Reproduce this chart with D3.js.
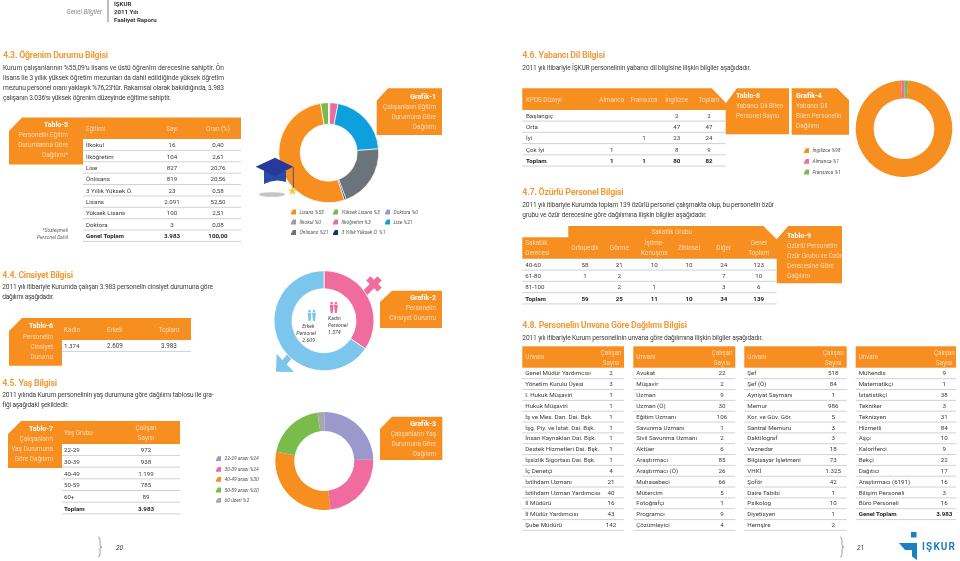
<!DOCTYPE html>
<html lang="tr"><head><meta charset="utf-8">
<script src="https://cdnjs.cloudflare.com/ajax/libs/d3/7.8.5/d3.min.js"></script>
<style>html,body{margin:0;padding:0;background:#fff}svg{display:block;filter:blur(.3px)}text{font-family:Roboto,sans-serif}</style>
</head><body><svg id="c" width="960" height="561"></svg>
<script>
// ---------- data ----------
const eduLabels=["İlkokul","İlköğretim","Lise","Önlisans","3 Yıllık Yüksek Ö.","Lisans","Yüksek Lisans","Doktora"];
const eduCounts=[16,104,827,819,23,2091,100,3];
const eduCountText=["16","104","827","819","23","2.091","100","3"];
const eduShare=["0,40","2,61","20,76","20,56","0,58","52,50","2,51","0,08"];
const eduTotal=["Genel Toplam","3.983","100,00"];
const genderLabels=["Kadın","Erkek"];
const genderCounts=[1374,2609];
const genderText=["1.374","2.609","3.983"];
const ageLabels=["22-29","30-39","40-49","50-59","60+"];
const ageCounts=[972,938,1199,785,89];
const ageText=["972","938","1.199","785","89"];
const langLevels=["Başlangıç","Orta","İyi","Çok İyi","Toplam"];
const langAlmanca=["","","","1","1"];
const langFransizca=["","","1","","1"];
const langIngilizce=["2","47","23","8","80"];
const langToplam=["2","47","24","9","82"];
const langPie=[80,1,1];
const disLevels=["40-60","61-80","81-100","Toplam"];
const disOrtopedik=["58","1","","59"];
const disGorme=["21","2","2","25"];
const disIsitme=["10","","1","11"];
const disZihinsel=["10","","","10"];
const disDiger=["24","7","3","34"];
const disToplam=["123","10","6","139"];
const titlesA=["Genel Müdür Yardımcısı","Yönetim Kurulu Üyesi","I. Hukuk Müşaviri","Hukuk Müşaviri","İş ve Mes. Dan. Dai. Bşk.","İşg. Piy. ve İstat. Dai. Bşk.","İnsan Kaynakları  Dai. Bşk.","Destek Hizmetleri  Dai. Bşk.","İşsizlik Sigortası  Dai. Bşk.","İç Denetçi","İstihdam Uzmanı","İstihdam Uzman Yardımcısı","İl Müdürü","İl Müdür Yardımcısı","Şube Müdürü"];
const countsA=["2","3","1","1","1","1","1","1","1","4","21","40","16","43","142"];
const titlesB=["Avukat","Müşavir","Uzman","Uzman (Ö)","Eğitim Uzmanı","Savunma Uzmanı","Sivil Savunma Uzmanı","Aktüer","Araştırmacı","Araştırmacı (Ö)","Muhasebeci","Mütercim","Fotoğrafçı","Programcı","Çözümleyici"];
const countsB=["22","2","9","30","106","1","2","6","85","26","66","5","1","9","4"];
const titlesC=["Şef","Şef (Ö)","Ayniyat Saymanı","Memur","Kor. ve Güv. Gör.","Santral Memuru","Daktilograf","Veznedar","Bilgisayar İşletmeni","VHKİ","Şoför","Daire Tabibi","Psikolog","Diyetisyen","Hemşire"];
const countsC=["518","84","1","986","5","3","3","18","73","1.325","42","1","10","1","2"];
const titlesD=["Mühendis","Matematikçi","İstatistikçi","Tekniker","Teknisyen","Hizmetli","Aşçı","Kaloriferci","Bekçi","Dağıtıcı","Araştırmacı (6191)","Bilişim Personeli","Büro Personeli","Genel Toplam"];
const countsD=["9","1","38","3","31","84","10","9","22","17","16","3","16","3.983"];
const legend1=["Lisans %53","Yüksek Lisans %3","Doktora %0","İlkokul %0","İlköğretim %3","Lise %21","Önlisans %21","3 Yıllık Yüksek Ö. %1"];
const legend3=["22-29 arası %24","30-39 arası %24","40-49 arası %30","50-59 arası %20","60 üzeri %2"];
const legend4=["İngilizce %98","Almanca %1","Fransızca %1"];

// ---------- style ----------
const ORANGE="#f68e20",TXT="#3c3c3c",RULE="#c9cdd0",HEAD="#ee9c3c",HTXT="#fcdcb8";
const C1={Lisans:"#f68e20","Yüksek Lisans":"#7cb84a",Doktora:"#9c98c9","İlkokul":"#9b9b9d","İlköğretim":"#ec6c9f",Lise:"#0ea0dc","Önlisans":"#6c747b","3 Yıllık Yüksek Ö.":"#12356e"};
const svg=d3.select("#c");

function T(x,y,s,o={}){
  const e=svg.append("text").attr("x",x).attr("y",y).attr("dy",".35em").text(s)
    .attr("font-size",o.size||6.3).attr("fill",o.fill||TXT)
    .attr("text-anchor",o.anchor||"start");
  if(o.bold)e.attr("font-weight",700);
  if(o.italic)e.attr("font-style","italic");
  if(o.w){e.attr("textLength",o.w).attr("lengthAdjust","spacing");}
  return e;
}
const heading=(x,x1,y,s)=>T(x,y,s,{size:8.8,bold:true,fill:HEAD,w:x1-x});
const para=(x,x1,y,s)=>T(x,y,s,{w:x1-x,size:6.6});
const poly=(pts,fill)=>svg.append("path").attr("d",d3.line()(pts)+"Z").attr("fill",fill);

function note(x,ys,lines,anchor){
  lines.forEach((l,i)=>T(x,ys[i],l,{anchor,fill:i==0?"#fff":HTXT,bold:i==0,size:i==0?7:6.4}));
}
// generic table body drawn with a row scale
function body(x0,x1,y0,y1,n,cols,opts={}){
  const yS=d3.scalePoint().domain(d3.range(n)).range([y0,y1]);
  const g=svg.append("g");
  g.selectAll("line").data(d3.range(n)).join("line")
    .attr("x1",x0).attr("x2",x1)
    .attr("y1",i=>yS(i)+5.4).attr("y2",i=>yS(i)+5.4)
    .attr("stroke",RULE).attr("stroke-width",.9);
  cols.forEach(c=>{
    g.selectAll(null).data(c.vals).join("text")
      .attr("x",c.x).attr("y",(d,i)=>yS(i)).attr("dy",".35em")
      .attr("text-anchor",c.anchor||"middle").attr("font-size",6.2)
      .attr("font-weight",(d,i)=>opts.boldLast&&i==n-1?700:null)
      .attr("fill",(d,i)=>opts.boldLast&&i==n-1?"#222":TXT)
      .text(d=>d);
  });
}
function donut(cx,cy,R,r,values,colors,start,sep){
  const pie=d3.pie().sort(null).startAngle(start).endAngle(start+2*Math.PI);
  const arc=d3.arc().innerRadius(r).outerRadius(R);
  const g=svg.append("g").attr("transform",`translate(${cx},${cy})`);
  g.selectAll("path").data(pie(values)).join("path").attr("d",arc)
    .attr("fill",(d,i)=>colors[i]).attr("stroke","#fff").attr("stroke-width",sep||0);
  return g;
}
function swatch(x,y,c){
  svg.append("path").attr("transform",`translate(${x},${y})`)
    .attr("d","M0,2.4L0,1L2,-2.4L5,-2.4L5,2.4Z").attr("fill",c);
}
function legend(items,colors,xs,ys){
  items.forEach((s,i)=>{swatch(xs[i],ys[i],colors[i]);
    T(xs[i]+8.5,ys[i],s,{italic:true,size:5,fill:"#555"});});
}

// ---------- left header ----------
T(102,11.5,"Genel Bilgiler",{anchor:"end",italic:true,size:6.3,fill:"#8a8a8a"});
svg.append("line").attr("x1",108).attr("x2",108).attr("y1",0).attr("y2",22).attr("stroke","#555").attr("stroke-width",.8);
["İŞKUR","2011 Yılı","Faaliyet Raporu"].forEach((s,i)=>T(114,[4,12,19.5][i],s,{bold:true,size:6.1,fill:"#333"}));

// ---------- 4.3 ----------
heading(3,108,55,"4.3. Öğrenim Durumu Bilgisi");
para(3,224,67.5,"Kurum çalışanlarının %55,09'u lisans ve üstü öğrenim derecesine sahiptir. Ön");
para(3,224,77.5,"lisans ile 3 yıllık yüksek öğretim mezunları da dahil edildiğinde yüksek öğretim");
para(3,224,87.5,"mezunu personel oranı yaklaşık %76,23'tür. Rakamsal olarak bakıldığında, 3.983");
para(3,171,97.5,"çalışanın 3.036'sı yüksek öğrenim düzeyinde eğitime sahiptir.");

poly([[9,131],[22,117.5],[241,117.5],[241,139],[83,139],[83,164.5],[9,164.5]],ORANGE);
note(68,[124.5,134.5,144.5,154.5],["Tablo-5","Personelin Eğitim","Durumlarına Göre","Dağılımı*"],"end");
T(86,128.5,"Eğitimi",{fill:HTXT});T(172,128.5,"Sayı",{fill:HTXT,anchor:"middle"});T(218,128.5,"Oran (%)",{fill:HTXT,anchor:"middle"});
body(83,241,145,236,9,[
 {x:86,anchor:"start",vals:[...eduLabels,eduTotal[0]]},
 {x:172,vals:[...eduCountText,eduTotal[1]]},
 {x:218,vals:[...eduShare,eduTotal[2]]}],{boldLast:true});
T(68,230.5,"*Sözleşmeli",{anchor:"end",italic:true,size:5,fill:"#666"});
T(68,237.5,"Personel Dahil",{anchor:"end",italic:true,size:5,fill:"#666"});

// ---------- 4.4 ----------
heading(2.3,73,274.5,"4.4. Cinsiyet Bilgisi");
para(2.3,213,287,"2011 yılı itibariyle Kurumda çalışan 3.983 personelin cinsiyet durumuna göre");
para(2.3,54,297,"dağılımı aşağıdadır.");
poly([[9,331],[22,318],[191,318],[191,340],[62,340],[62,365.7],[9,365.7]],ORANGE);
note(53,[326,336.5,346.5,356.5],["Tablo-6","Personelin","Cinsiyet","Durumu"],"end");
T(64,329.5,genderLabels[0],{fill:HTXT});T(107,329.5,genderLabels[1],{fill:HTXT});T(169,329.5,"Toplam",{fill:HTXT,anchor:"middle"});
body(62,191,346,346,1,[{x:64,anchor:"start",vals:[genderText[0]]}]);
T(107,346,genderText[1]);T(169,346,genderText[2],{anchor:"middle"});

// ---------- 4.5 ----------
heading(2.3,57,382.7,"4.5. Yaş Bilgisi");
para(2.3,213.6,395,"2011 yılında Kurum personelinin yaş durumuna göre dağılımı tablosu ile gra-");
para(2.3,68.7,405,"fiği aşağıdaki şekildedir.");
poly([[8,434],[21,421],[180,421],[180,444],[62,444],[62,468],[8,468]],ORANGE);
note(53,[428.5,439,449,458.5],["Tablo-7","Çalışanların","Yaş Durumuna","Göre Dağılımı"],"end");
T(64,433,"Yaş Grubu",{fill:HTXT});T(146,428,"Çalışan",{fill:HTXT,anchor:"middle"});T(146,438,"Sayısı",{fill:HTXT,anchor:"middle"});
body(62,180,450,508.5,6,[{x:64,anchor:"start",vals:[...ageLabels,"Toplam"]},{x:146,vals:[...ageText,genderText[2]]}],{boldLast:true});

// page markers
function brace(x,y0,y1){const m=(y0+y1)/2;
 svg.append("path").attr("d",`M${x-2},${y0}Q${x},${y0} ${x},${y0+3}L${x},${m-2}Q${x},${m} ${x+2},${m}Q${x},${m} ${x},${m+2}L${x},${y1-3}Q${x},${y1} ${x-2},${y1}`)
  .attr("fill","none").attr("stroke","#777").attr("stroke-width",.7);}
brace(100,537,557);T(116,547.5,"20",{italic:true,size:6.6});
brace(842,537,557);T(857,547.5,"21",{italic:true,size:6.6});

// ---------- Grafik 1 ----------
const eduColors=eduLabels.map(l=>C1[l]);
donut(328.7,152.7,50,28.5,eduCounts,eduColors,0,.7);
poly([[376.7,100.7],[388,88.3],[442,88.3],[442,135],[376.7,135]],ORANGE);
note(436,[96.5,106.7,116.5,126.5],["Grafik-1","Çalışanların Eğitim","Durumuna Göre","Dağılımı"],"end");
// graduation cap
svg.append("ellipse").attr("cx",272).attr("cy",194.5).attr("rx",13).attr("ry",2.3).attr("fill","#c4c4c4");
svg.append("path").attr("d","M264,171L286,171L286,182Q275,178 264,184Z").attr("fill","#2b4aa8");
poly([[255.7,166.7],[275,157.7],[293.3,166.7],[275,176]],"#27399a");
svg.append("path").attr("d","M293.3,167L293.3,188").attr("stroke","#27399a").attr("stroke-width",.8);
svg.append("path").attr("transform","translate(292.5,191)").attr("d",d3.symbol(d3.symbolStar,26)()).attr("fill","#f6c83a");
legend(legend1,[C1.Lisans,C1["Yüksek Lisans"],C1.Doktora,C1["İlkokul"],C1["İlköğretim"],C1.Lise,C1["Önlisans"],C1["3 Yıllık Yüksek Ö."]],
  [291,333,385,291,333,385,291,333],[212,212,212,222,222,222,232.5,232.5]);

// ---------- Grafik 2 ----------
const PINK="#f06c9f",SKY="#7cc5ec";
svg.append("g").attr("transform","translate(374,284) rotate(45)").call(g=>{
  g.append("rect").attr("x",-3).attr("y",-8).attr("width",6).attr("height",22).attr("fill",PINK);
  g.append("rect").attr("x",-8).attr("y",-3).attr("width",16).attr("height",6).attr("fill",PINK);
});
svg.append("line").attr("x1",295).attr("y1",350).attr("x2",282).attr("y2",365).attr("stroke",SKY).attr("stroke-width",6);
poly([[276,371.7],[276.7,354],[294,372]],SKY);
donut(324,320.7,50,32,genderCounts,[PINK,SKY],0,.8);
poly([[380,302],[392,290.7],[442,290.7],[442,328],[380,328]],ORANGE);
note(436,[298,308,318],["Grafik-2","Personelin","Cinsiyet Durumu"],"end");
function person(x,y,c){
  svg.append("circle").attr("cx",x).attr("cy",y).attr("r",1.3).attr("fill",c);
  svg.append("path").attr("d",`M${x-1.9},${y+1.8}L${x+1.9},${y+1.8}L${x+1.5},${y+6}L${x+1},${y+10}L${x-1},${y+10}L${x-1.5},${y+6}Z`).attr("fill",c);
}
person(331.7,303,PINK);person(335.9,303,PINK);
person(309.5,311,SKY);person(314,311,SKY);
["Kadın","Personel","1.374"].forEach((s,i)=>T(328,[318,325,332][i],s,{italic:true,size:5.2,fill:"#444"}));
["Erkek","Personel","2.609"].forEach((s,i)=>T([314.5,316,315][i],[326,333,340][i],s,{italic:true,size:5.2,fill:"#444",anchor:"end"}));

// ---------- Grafik 3 ----------
const ageColors=["#9b99cc","#ef6ba0","#f68e20","#7abc4b","#a8a8aa"];
donut(324.3,461,49,30,ageCounts,ageColors,0,0);
poly([[380,429],[392,416.7],[442.3,416.7],[442.3,460],[380,460]],ORANGE);
note(436,[424,434,443.7,453.7],["Grafik-3","Çalışanların Yaş","Durumuna Göre","Dağılımı"],"end");
legend(legend3,ageColors,[216,216,216,216,216],[458.7,469.3,479.3,490,500.3]);

// ---------- 4.6 ----------
heading(522.3,605,55,"4.6. Yabancı Dil Bilgisi");
para(522.3,751,68,"2011 yılı itibariyle İŞKUR personelinin yabancı dil bilgisine ilişkin bilgiler aşağıdadır.");
poly([[522.3,88.3],[711.7,88.3],[726,103],[737,88.3],[789,88.3],[789,134.3],[725.7,134.3],[725.7,110],[522.3,110]],ORANGE);
T(526,99.5,"KPDS Düzeyi",{fill:HTXT});
[["Almanca",611.7],["Fransızca",644],["İngilizce",676.7],["Toplam",709]].forEach(d=>T(d[1],99.5,d[0],{fill:HTXT,anchor:"middle"}));
note(736,[96,106,115.5],["Tablo-8","Yabancı Dil Bilen","Personel Sayısı"],"start");
body(522.3,725.7,115.7,160.7,5,[
 {x:526,anchor:"start",vals:langLevels},{x:611.7,vals:langAlmanca},{x:644,vals:langFransizca},{x:676.7,vals:langIngilizce},{x:709,vals:langToplam}],{boldLast:true});

// Grafik 4
poly([[791.7,88.3],[837,88.3],[849,100],[849,134.8],[791.7,134.8]],ORANGE);
note(796,[96,106,115.5,125.5],["Grafik-4","Yabancı Dil","Bilen Personelin","Dağılımı"],"start");
const langColors=["#f68e20","#ef6ba0","#7abc4b"];
donut(904,128.7,48.3,30.3,langPie,langColors,0.092,0);
legend(legend4,langColors,[804,804,804],[150.7,161.3,172]);

// ---------- 4.7 ----------
heading(522.3,623.7,191.7,"4.7. Özürlü Personel Bilgisi");
para(522.3,774,204.7,"2011 yılı itibariyle Kurumda toplam 139 özürlü personel çalışmakta olup, bu personelin özür");
para(522.3,706.6,214.7,"grubu ve özür derecesine göre dağılımına ilişkin bilgiler aşağıdadır.");
poly([[568.3,226],[763.3,226],[776.7,239.3],[788.3,226],[842,226],[842,283.3],[776.7,283.3],[776.7,258.7],[522.3,258.7],[522.3,237.3],[568.3,237.3]],ORANGE);
T(671.7,232,"Sakatlık Grubu",{fill:HTXT,anchor:"middle"});
T(525.3,243,"Sakatlık",{fill:HTXT});T(525.3,253,"Derecesi",{fill:HTXT});
[["Ortopedik",585],["Görme",619.3],["Zihinsel",689],["Diğer",723.7]].forEach(d=>T(d[1],248,d[0],{fill:HTXT,anchor:"middle"}));
T(654.3,243,"İşitme-",{fill:HTXT,anchor:"middle"});T(654.3,253,"Konuşma",{fill:HTXT,anchor:"middle"});
T(758.7,243,"Genel",{fill:HTXT,anchor:"middle"});T(758.7,253,"Toplam",{fill:HTXT,anchor:"middle"});
note(787,[236,246,256,266,276],["Tablo-9","Özürlü Personelin","Özür Grubu ve Özür","Derecesine Göre","Dağılımı"],"start");
body(522.3,776.7,264.7,298.5,4,[
 {x:525.3,anchor:"start",vals:disLevels},{x:585,vals:disOrtopedik},{x:619.3,vals:disGorme},{x:654.3,vals:disIsitme},{x:689,vals:disZihinsel},{x:723.7,vals:disDiger},{x:758.7,vals:disToplam}],{boldLast:true});

// ---------- 4.8 ----------
heading(522.3,687,325,"4.8. Personelin Unvana Göre Dağılımı Bilgisi");
para(522.3,763,337.3,"2011 yılı itibariyle Kurum personelinin unvana göre dağılımına ilişkin bilgiler aşağıdadır.");
const step=(525-373.3)/14;
[[522.3,624,611,titlesA,countsA],[633.3,735.3,722,titlesB,countsB],[744.3,846.7,833.3,titlesC,countsC],[855.7,956,944.3,titlesD,countsD]].forEach((t,k)=>{
  svg.append("rect").attr("x",t[0]).attr("y",346.3).attr("width",t[1]-t[0]).attr("height",21.4).attr("fill",ORANGE);
  T(t[0]+3,357,"Unvanı",{fill:HTXT});
  T(t[2],352.3,"Çalışan",{fill:HTXT,anchor:"middle"});T(t[2],362.7,"Sayısı",{fill:HTXT,anchor:"middle"});
  const n=t[3].length;
  body(t[0],t[1],373.3,373.3+step*(n-1),n,[{x:t[0]+3,anchor:"start",vals:t[3]},{x:t[2],vals:t[4]}],{boldLast:k==3});
});

// logo
svg.append("rect").attr("x",911).attr("y",532).attr("width",5.5).attr("height",5.5).attr("fill","#1b7fc2");
poly([[899,543],[917,543],[917,560],[912,556.5],[912,550],[905,550]],"#1b7fc2");
T(922,546,"IŞKUR",{bold:true,size:10,fill:"#1b7fc2",w:33});
</script></body></html>
